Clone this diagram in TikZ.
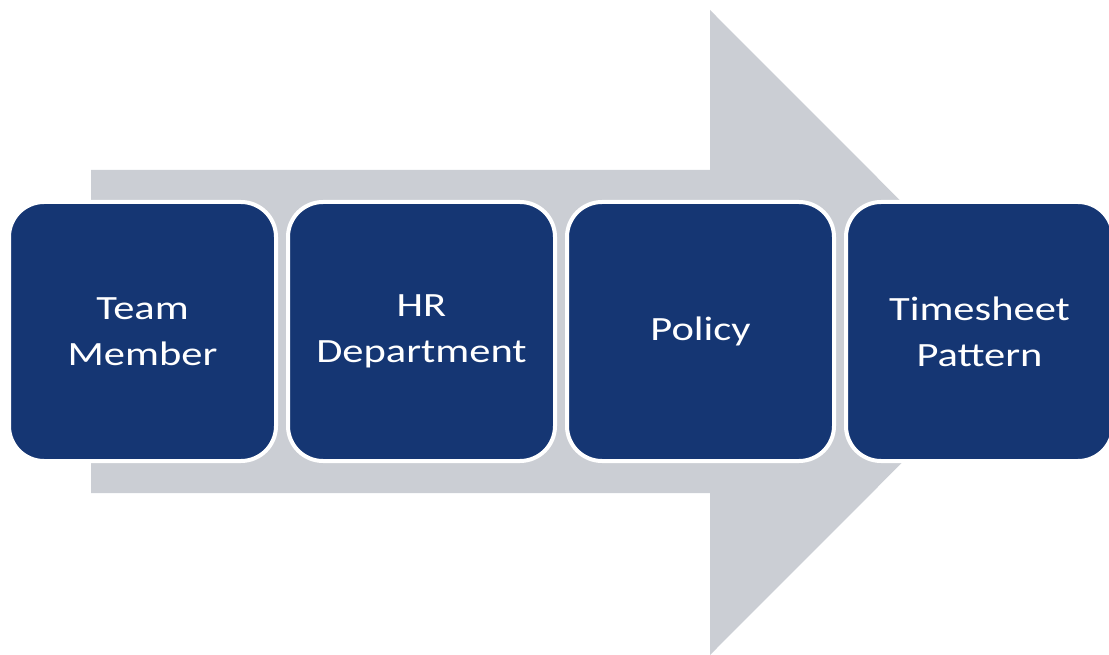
\documentclass[tikz,border=0pt]{standalone}
\usepackage{fontspec}
\setmainfont[FakeStretch=1.25]{Carlito}
\usepackage{tikz}
\usetikzlibrary{positioning}
\definecolor{stageblue}{RGB}{21,54,115}
\definecolor{arrowgrey}{RGB}{203,206,212}
\tikzstyle{stagebox} = [draw=white, fill=stageblue, line width=4pt,
    rectangle, rounded corners=35pt, minimum width=267pt, minimum height=259pt,
    text=white, align=center, font=\fontsize{34}{46}\selectfont]
\tikzstyle{bigarrow} = [fill=arrowgrey]

\begin{document}
\begin{tikzpicture}[x=1pt, y=-1pt]
    \useasboundingbox (0,0) rectangle (1109,655);
    % the arrow behind the four stages
    \fill[bigarrow] (91,170) -- (710,170) -- (710,10) -- (1032,332.5)
        -- (710,655) -- (710,493) -- (91,493) -- cycle;
    \node [stagebox] (member) at (142.5,331.5) {Team\\Member};
    \node [stagebox, right=8pt of member] (hr) {HR\\Department};
    \node [stagebox, right=8pt of hr] (policy) {Policy};
    \node [stagebox, right=8pt of policy] (pattern) {Timesheet\\Pattern};
\end{tikzpicture}
\end{document}
